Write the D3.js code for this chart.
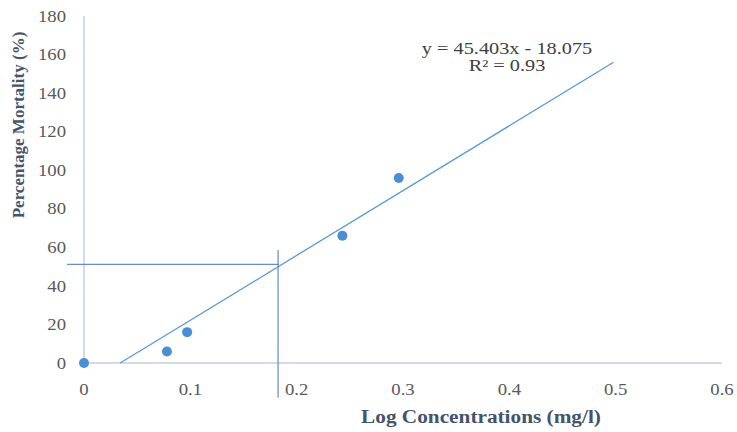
<!DOCTYPE html>
<html>
<head>
<meta charset="utf-8">
<script src="https://cdn.jsdelivr.net/npm/d3@7"></script>
<style>
  body { margin: 0; background: #fff; }
  svg text { font-family: "Liberation Serif", "Times New Roman", serif; }
</style>
</head>
<body>
<div id="graph"></div>
<script>
// observed points
var logConc = [0, 0.078, 0.097, 0.243, 0.296];
var mortality = [0, 6, 16, 66, 96];

// trendline ends as drawn
var trendX = [0.034, 0.498];
var trendY = [0, 156];

// LC50 guide lines
var guideH = { x: [-0.016, 0.183], y: 51.2 };
var guideV = { x: 0.1825, y: [58.6, -18] };

var xTicks = [0, 0.1, 0.2, 0.3, 0.4, 0.5, 0.6];
var yTicks = [0, 20, 40, 60, 80, 100, 120, 140, 160, 180];

var equation = ["y = 45.403x - 18.075", "R² = 0.93"];

var W = 737, H = 432;
var svg = d3.select("#graph").append("svg")
    .attr("width", W)
    .attr("height", H);

var x = d3.scaleLinear().domain([0, 0.6]).range([84, 722]);
var y = d3.scaleLinear().domain([0, 180]).range([363, 16]);

// text in the picture is a bit wider than plain Times
function place(px, py, sx) {
  return "translate(" + px + "," + py + ") scale(" + sx + ",1)";
}

// axis lines
svg.append("line")
    .attr("x1", x(0)).attr("x2", x(0))
    .attr("y1", y(0)).attr("y2", y(180))
    .attr("stroke", "#c5cfdf").attr("stroke-width", 1.5);
svg.append("line")
    .attr("x1", x(0)).attr("x2", x(0.6))
    .attr("y1", y(0)).attr("y2", y(0))
    .attr("stroke", "#c5cfdf").attr("stroke-width", 1.5);

// tick labels
svg.selectAll(".ytick").data(yTicks).enter().append("text")
    .attr("transform", function(d) { return place(66, y(d), 1.17); })
    .attr("dy", "0.35em")
    .attr("text-anchor", "end")
    .attr("font-size", 16)
    .attr("fill", "#595959")
    .text(function(d) { return d; });

svg.selectAll(".xtick").data(xTicks).enter().append("text")
    .attr("transform", function(d) { return place(x(d), 395, 1.17); })
    .attr("text-anchor", "middle")
    .attr("font-size", 16)
    .attr("fill", "#595959")
    .text(function(d) { return d; });

// axis titles
svg.append("text")
    .attr("transform", "translate(24," + 125 + ") rotate(-90)")
    .attr("text-anchor", "middle")
    .attr("font-size", 17)
    .attr("font-weight", "bold")
    .attr("fill", "#44546a")
    .text("Percentage Mortality (%)");

svg.append("text")
    .attr("transform", place(481, 423, 1.12))
    .attr("text-anchor", "middle")
    .attr("font-size", 19)
    .attr("font-weight", "bold")
    .attr("fill", "#44546a")
    .text("Log Concentrations (mg/l)");

// guide lines
svg.append("line")
    .attr("x1", x(guideH.x[0])).attr("x2", x(guideH.x[1]))
    .attr("y1", y(guideH.y)).attr("y2", y(guideH.y))
    .attr("stroke", "#4472c4").attr("stroke-width", 1);
svg.append("line")
    .attr("x1", x(guideV.x)).attr("x2", x(guideV.x))
    .attr("y1", y(guideV.y[0])).attr("y2", y(guideV.y[1]))
    .attr("stroke", "#4472c4").attr("stroke-width", 1);

// trendline
svg.append("line")
    .attr("x1", x(trendX[0])).attr("y1", y(trendY[0]))
    .attr("x2", x(trendX[1])).attr("y2", y(trendY[1]))
    .attr("stroke", "#5b9bd5").attr("stroke-width", 1.3);

// points
svg.selectAll(".pt").data(logConc).enter().append("circle")
    .attr("cx", function(d) { return x(d); })
    .attr("cy", function(d, i) { return y(mortality[i]); })
    .attr("r", 5)
    .attr("fill", "#4a8fd6");

// equation
svg.selectAll(".eq").data(equation).enter().append("text")
    .attr("transform", function(d, i) { return place(507, 54 + i * 17, 1.27); })
    .attr("text-anchor", "middle")
    .attr("font-size", 16)
    .attr("fill", "#404040")
    .text(function(d) { return d; });
</script>
</body>
</html>
